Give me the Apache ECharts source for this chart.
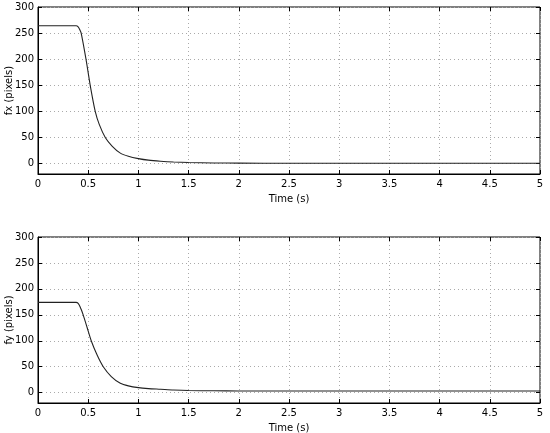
<!DOCTYPE html>
<html>
<head>
<meta charset="utf-8">
<script src="https://cdn.jsdelivr.net/npm/echarts@6/dist/echarts.min.js"></script>
<style>
  html, body { margin: 0; padding: 0; background: #fff; }
  #chart { width: 550px; height: 433px; }
</style>
</head>
<body>
<div id="chart"></div>
<script>
// time stamps (s)
var timeFx = [0, 0.38, 0.40, 0.415, 0.43, 0.478, 0.52, 0.57, 0.61, 0.67, 0.74, 0.82, 0.9, 1.0, 1.1, 1.22, 1.35, 1.5, 1.75, 2.0, 2.5, 3, 4, 5];
var fxValues = [264, 264, 262, 257, 250, 200, 150, 100, 75, 50, 33, 20, 14, 9.5, 6.5, 4.5, 3, 2, 1.2, 0.8, 0.6, 0.5, 0.5, 0.5];

var timeFy = [0, 0.38, 0.40, 0.42, 0.45, 0.49, 0.53, 0.59, 0.65, 0.73, 0.82, 0.9, 1.0, 1.1, 1.22, 1.35, 1.5, 1.75, 2, 3, 4, 5];
var fyValues = [174, 174, 172, 165, 150, 125, 100, 72, 50, 31, 18, 13, 9.6, 7.8, 6.5, 5, 4, 3.5, 3.2, 3, 3, 3];

var yTicks = [0, 50, 100, 150, 200, 250, 300];
var xName = 'Time (s)';
var yNames = ['fx (pixels)', 'fy (pixels)'];

var font = 'DejaVu Sans';
var grids = [
  { left: 38, right: 10, top: 7, height: 167 },
  { left: 38, right: 10, top: 237, height: 166 }
];

function pairs(xs, ys) {
  return xs.map(function (x, i) { return [x, ys[i]]; });
}

var gridDotted = { show: true, lineStyle: { color: '#aaa', type: [1, 3], width: 1 } };

var xAxes = [], yAxes = [];
grids.forEach(function (g, i) {
  g.show = true;
  g.borderColor = '#000';
  g.borderWidth = 1;
  g.outerBoundsMode = 'none';
  xAxes.push({
    type: 'value', gridIndex: i, min: 0, max: 5, interval: 0.5,
    name: xName, nameLocation: 'middle', nameGap: 20, nameMoveOverlap: false,
    nameTextStyle: { fontFamily: font, fontSize: 10, color: '#000' },
    axisLine: { show: true, onZero: false, lineStyle: { color: '#000' } },
    axisTick: { show: true, inside: true, length: 4, lineStyle: { color: '#000' } },
    axisLabel: { fontFamily: font, fontSize: 10, color: '#000', margin: 5 },
    splitLine: gridDotted
  });
  xAxes.push({
    type: 'value', gridIndex: i, min: 0, max: 5, interval: 0.5, position: 'top',
    axisLine: { show: false, onZero: false },
    axisTick: { show: true, inside: true, length: 4, lineStyle: { color: '#000' } },
    axisLabel: { show: false }, splitLine: { show: false }
  });
  yAxes.push({
    type: 'value', gridIndex: i, min: -20, max: 300,
    name: yNames[i], nameLocation: 'middle', nameGap: 24, nameRotate: 90, nameMoveOverlap: false,
    nameTextStyle: { fontFamily: font, fontSize: 10, color: '#000' },
    axisLine: { show: true, onZero: false, lineStyle: { color: '#000' } },
    axisTick: { show: true, inside: true, length: 4, customValues: yTicks, lineStyle: { color: '#000' } },
    axisLabel: { fontFamily: font, fontSize: 10, color: '#000', margin: 4, customValues: yTicks },
    splitLine: gridDotted
  });
  yAxes.push({
    type: 'value', gridIndex: i, min: -20, max: 300, position: 'right',
    axisLine: { show: false, onZero: false },
    axisTick: { show: true, inside: true, length: 4, customValues: yTicks, lineStyle: { color: '#000' } },
    axisLabel: { show: false }, splitLine: { show: false }
  });
});

var chart = echarts.init(document.getElementById('chart'));
chart.setOption({
  animation: false,
  backgroundColor: '#fff',
  grid: grids,
  xAxis: xAxes,
  yAxis: yAxes,
  series: [
    {
      type: 'line', xAxisIndex: 0, yAxisIndex: 0,
      data: pairs(timeFx, fxValues),
      smooth: 0.25, showSymbol: false,
      lineStyle: { color: '#222', width: 1.1 }
    },
    {
      type: 'line', xAxisIndex: 2, yAxisIndex: 2,
      data: pairs(timeFy, fyValues),
      smooth: 0.25, showSymbol: false,
      lineStyle: { color: '#222', width: 1.1 }
    }
  ]
});
</script>
</body>
</html>
